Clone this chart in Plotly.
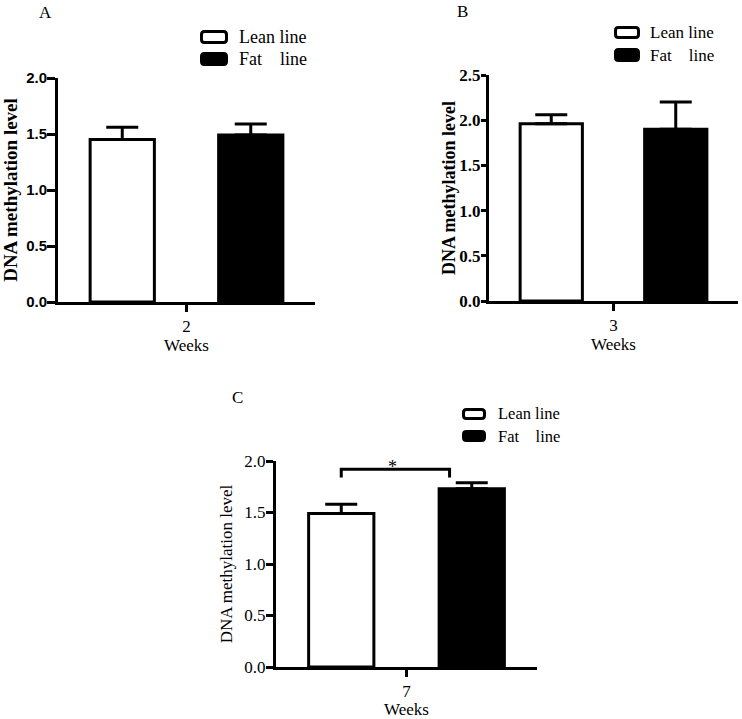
import plotly.graph_objects as go

W, H = 742, 719

# ---------------- data ----------------
groups = ["Lean line", "Fat line"]
weeks_a = ["2"]
weeks_b = ["3"]
weeks_c = ["7"]
lean_a, lean_a_err = [1.45], [0.11]
fat_a, fat_a_err = [1.49], [0.10]
lean_b, lean_b_err = [1.96], [0.10]
fat_b, fat_b_err = [1.90], [0.30]
lean_c, lean_c_err = [1.49], [0.09]
fat_c, fat_c_err = [1.73], [0.06]
sig_bracket_y = [1.84, 1.92]
sig_label = "*"


def px(x):
    return x / W


def py(y):
    return 1 - y / H


SERIF = "Liberation Serif"
SANS = "Liberation Sans"

fig = go.Figure()


def add_pair(xcat, lean, lerr, fat, ferr, xa, ya):
    fig.add_trace(go.Bar(
        x=xcat, y=lean, name=groups[0], xaxis=xa, yaxis=ya,
        marker=dict(color="white", line=dict(color="black", width=3)),
        error_y=dict(type="data", symmetric=False, array=lerr, arrayminus=[0],
                     color="black", thickness=3, width=16),
        showlegend=False))
    fig.add_trace(go.Bar(
        x=xcat, y=fat, name=groups[1], xaxis=xa, yaxis=ya,
        marker=dict(color="black", line=dict(color="black", width=3)),
        error_y=dict(type="data", symmetric=False, array=ferr, arrayminus=[0],
                     color="black", thickness=3, width=16),
        showlegend=False))


add_pair(weeks_a, lean_a, lean_a_err, fat_a, fat_a_err, "x", "y")
add_pair(weeks_b, lean_b, lean_b_err, fat_b, fat_b_err, "x2", "y2")
add_pair(weeks_c, lean_c, lean_c_err, fat_c, fat_c_err, "x3", "y3")


def xaxis_cfg(domain, anchor):
    return dict(domain=domain, anchor=anchor, showline=True, linecolor="black",
                linewidth=3, ticks="outside", ticklen=7, tickwidth=3,
                tickcolor="black", showgrid=False, zeroline=False,
                tickfont=dict(family=SERIF, size=17, color="black"),
                title=dict(text="Weeks", font=dict(family=SERIF, size=17, color="black"),
                           standoff=0),
                automargin=False, fixedrange=True)


def yaxis_cfg(domain, anchor, rng, dtick, tfont, title_font, standoff, ticklen,
              label_standoff):
    return dict(domain=domain, anchor=anchor, range=rng, dtick=dtick, tick0=0,
                tickformat=".1f", showline=True, linecolor="black", linewidth=3,
                ticks="outside", ticklen=ticklen, tickwidth=2.5, tickcolor="black",
                ticklabelstandoff=label_standoff,
                showgrid=False, zeroline=False, tickfont=tfont,
                title=dict(text="DNA methylation level", font=title_font,
                           standoff=standoff),
                automargin=False, fixedrange=True)


fig.update_layout(
    width=W, height=H,
    margin=dict(l=0, r=0, t=0, b=0),
    paper_bgcolor="white", plot_bgcolor="white",
    barmode="group", bargap=0.0, bargroupgap=0.5,
    showlegend=False,
    xaxis=xaxis_cfg([px(58), px(315)], "y"),
    yaxis=yaxis_cfg([py(302), py(78)], "x", [0, 2], 0.5,
                    dict(family=SANS, size=15, color="black", weight="bold"),
                    dict(family=SERIF, size=19, color="black", weight="bold"), 6,
                    8, -3),
    xaxis2=xaxis_cfg([px(489), px(738)], "y2"),
    yaxis2=yaxis_cfg([py(301), py(75)], "x2", [0, 2.5], 0.5,
                     dict(family=SERIF, size=17, color="black", weight="bold"),
                     dict(family=SERIF, size=18, color="black", weight="bold"), 0,
                     5, -3),
    xaxis3=xaxis_cfg([px(276), px(537)], "y3"),
    yaxis3=yaxis_cfg([py(667), py(461)], "x3", [0, 2], 0.5,
                     dict(family=SERIF, size=17, color="black"),
                     dict(family=SERIF, size=17, color="black"), 8,
                     7, -3),
)

shapes = []
annotations = []


def rounded_box(x0, y0, x1, y1, filled, r=3):
    pts = [
        ("M", [(x0 + r, y0)]), ("L", [(x1 - r, y0)]), ("Q", [(x1, y0), (x1, y0 + r)]),
        ("L", [(x1, y1 - r)]), ("Q", [(x1, y1), (x1 - r, y1)]), ("L", [(x0 + r, y1)]),
        ("Q", [(x0, y1), (x0, y1 - r)]), ("L", [(x0, y0 + r)]),
        ("Q", [(x0, y0), (x0 + r, y0)]),
    ]
    parts = []
    for cmd, coords in pts:
        parts.append(cmd + " " + " ".join(f"{px(a):.5f},{py(b):.5f}" for a, b in coords))
    path = " ".join(parts) + " Z"
    shapes.append(dict(type="path", xref="paper", yref="paper", path=path,
                       line=dict(color="black", width=3),
                       fillcolor="black" if filled else "white"))


def legend(x0, x1, ly0, ly1, fy0, fy1, tx, ty_l, ty_f, size):
    rounded_box(x0 + 1.5, ly0 + 1.5, x1 - 1.5, ly1 - 1.5, False)
    rounded_box(x0 + 1.5, fy0 + 1.5, x1 - 1.5, fy1 - 1.5, True)
    annotations.append(dict(x=px(tx), y=py(ty_l), xref="paper", yref="paper",
                            text=groups[0], showarrow=False, xanchor="left",
                            yanchor="middle",
                            font=dict(family=SERIF, size=size, color="black")))
    annotations.append(dict(x=px(tx), y=py(ty_f), xref="paper", yref="paper",
                            text="Fat\u00a0\u00a0\u00a0\u00a0line", showarrow=False,
                            xanchor="left", yanchor="middle",
                            font=dict(family=SERIF, size=size, color="black")))


legend(200, 228, 30, 44, 52, 66, 237, 37, 59, 18)
legend(614, 640, 26, 39, 48, 62, 648, 32, 56, 17)
legend(462, 486, 408, 420, 430, 442, 496, 413, 436, 16.5)

# panel labels
for lab, x, y in [("A", 45, 13), ("B", 462, 11), ("C", 237, 397)]:
    annotations.append(dict(x=px(x), y=py(y), xref="paper", yref="paper", text=lab,
                            showarrow=False, xanchor="center", yanchor="middle",
                            font=dict(family=SERIF, size=17, color="black")))

# significance bracket on panel C
bx0, bx1 = -0.25, 0.165
shapes.append(dict(type="path", xref="x3", yref="y3",
                   path=f"M {bx0},{sig_bracket_y[0]} L {bx0},{sig_bracket_y[1]} "
                        f"L {bx1},{sig_bracket_y[1]} L {bx1},{sig_bracket_y[0]}",
                   line=dict(color="black", width=3)))
annotations.append(dict(x=-0.055, y=sig_bracket_y[1], xref="x3", yref="y3",
                        text=sig_label, showarrow=False, yanchor="bottom", yshift=-10,
                        font=dict(family=SERIF, size=18, color="black")))

fig.update_layout(shapes=shapes, annotations=annotations)

fig.write_html("out.html",
               config={"displayModeBar": False},
               post_script="document.body.style.margin='0';"
                           "document.body.style.padding='0';")
